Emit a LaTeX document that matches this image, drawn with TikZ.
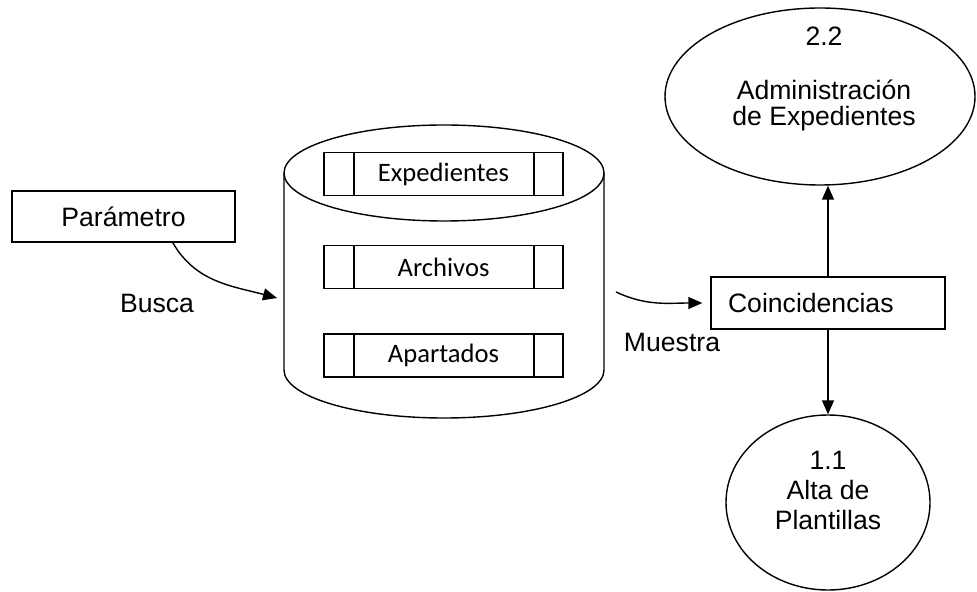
\documentclass[tikz,border=0pt]{standalone}
\usepackage{fontspec}
\setmainfont{Liberation Sans}
\newfontfamily\calibri{Carlito}
\usetikzlibrary{arrows.meta, positioning, shapes.geometric}

\begin{document}
\begin{tikzpicture}[
    x=0.5pt, y=0.5pt,
    % Styles
    box/.style={draw, rectangle, line width=0.7pt, inner sep=0pt, font=\fontsize{13.3}{15}\selectfont},
    filebox/.style={draw, rectangle, line width=0.7pt, minimum width=119.5pt, minimum height=21.5pt,
                    inner sep=0pt, font=\calibri\fontsize{13.3}{15}\selectfont,
                    path picture={
                      \draw[line width=1.2pt] ([xshift=15pt]path picture bounding box.north west) -- ([xshift=15pt]path picture bounding box.south west);
                      \draw[line width=1.2pt] ([xshift=-14.5pt]path picture bounding box.north east) -- ([xshift=-14.5pt]path picture bounding box.south east);}},
    process/.style={draw, ellipse, line width=0.7pt, inner sep=0pt},
    proclbl/.style={align=center, inner sep=0pt, anchor=north, font=\fontsize{13.3}{13}\selectfont},
    arrow/.style={-{Triangle[length=7pt, width=6pt]}, line width=0.7pt},
    lbl/.style={font=\fontsize{13.3}{15}\selectfont, inner sep=0pt}
  ]
    \useasboundingbox (0,0) rectangle (977,-592);

    % === Data store (cylinder) ===
    \draw[line width=0.7pt] (284,-173) -- (284,-370)
        arc[start angle=180, end angle=360, x radius=160, y radius=48] -- (604,-173);
    \draw[line width=0.7pt] (444,-173) ellipse[x radius=160, y radius=48];

    \node[filebox] (exped) at (443.5,-174) {Expedientes};
    \node[filebox] (archiv) at (443.5,-267) {Archivos};
    \node[filebox] (apart) at (443.5,-355.5) {Apartados};

    % === Entities ===
    \node[box, minimum width=111.5pt, minimum height=25.5pt] (param) at (123.5,-216.5) {Parámetro};
    \node[box, minimum width=117pt, minimum height=26pt, text width=100pt, align=left,
          inner xsep=8.5pt] (coinc) at (828,-303) {Coincidencias};

    % === Processes ===
    \node[process, minimum width=155pt, minimum height=88.5pt] (adm) at (820,-96.5) {};
    \node[proclbl] (admlbl) at (824,-27) {2.2\\[14pt]Administración\\de Expedientes};

    \node[process, minimum width=102pt, minimum height=87.5pt] (plant) at (828,-502.5) {};
    \node[proclbl, font=\fontsize{13.3}{15}\selectfont] (plantlbl) at (828,-451) {1.1\\Alta de\\Plantillas};

    % === Flows ===
    \coordinate (buscaend) at (277,-298);
    \coordinate (muestrastart) at (616,-292);

    \draw[arrow] (param.-28) to[out=-60, in=165] (buscaend);
    \node[lbl] (busca) at (157,-303) {Busca};

    \draw[arrow] (muestrastart) to[out=-25, in=180] ([xshift=-4pt]coinc.west);
    \node[lbl] (muestra) at (672,-342) {Muestra};

    \draw[arrow] (coinc.north) -- (coinc.north |- adm.south);
    \draw[arrow] (coinc.south) -- (plant.north);

\end{tikzpicture}
\end{document}
